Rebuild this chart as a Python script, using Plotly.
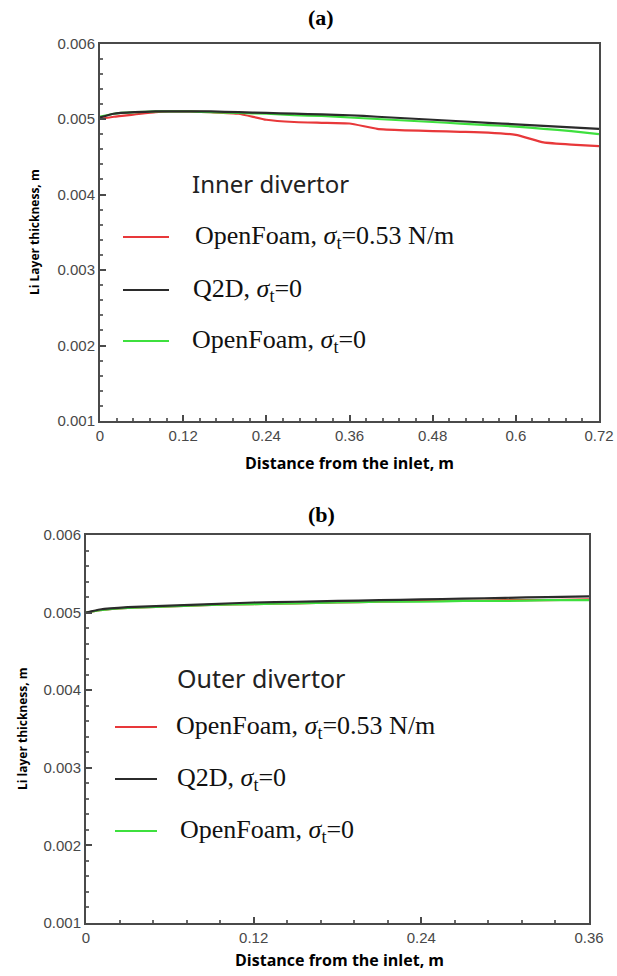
import plotly.graph_objects as go

# Inner divertor (panel a): distance along the plate, m
x_inner = [0.0, 0.02, 0.05, 0.08, 0.10, 0.13, 0.16, 0.20, 0.24, 0.28, 0.32, 0.36,
           0.40, 0.44, 0.48, 0.52, 0.56, 0.60, 0.64, 0.68, 0.72]
q2d_inner = [0.00502, 0.00507, 0.00509, 0.00510, 0.00510, 0.00510, 0.00510, 0.00509, 0.00508,
             0.00507, 0.00506, 0.00505, 0.00503, 0.00501, 0.00499, 0.00497, 0.00495, 0.00493,
             0.00491, 0.00489, 0.00487]
of0_inner = [0.00503, 0.00507, 0.00509, 0.00510, 0.00510, 0.00510, 0.00509, 0.00508, 0.00507,
             0.00505, 0.00504, 0.00502, 0.00500, 0.00498, 0.00496, 0.00494, 0.00492, 0.00490,
             0.00487, 0.00484, 0.00480]
of53_inner = [0.00500, 0.00503, 0.00506, 0.00509, 0.00510, 0.00510, 0.00509, 0.00507, 0.00499,
              0.00496, 0.00495, 0.00494, 0.00487, 0.00485, 0.00484, 0.00483, 0.00482, 0.00479,
              0.00469, 0.00466, 0.00464]

# Outer divertor (panel b)
x_outer = [0.0, 0.01, 0.03, 0.06, 0.09, 0.12, 0.15, 0.18, 0.21, 0.24, 0.27, 0.30, 0.33, 0.36]
q2d_outer = [0.00500, 0.00504, 0.00507, 0.00509, 0.00511, 0.00513, 0.00514, 0.00515, 0.00516,
             0.00517, 0.00518, 0.00519, 0.00520, 0.00521]
of0_outer = [0.00500, 0.00503, 0.00506, 0.00508, 0.00510, 0.00511, 0.00512, 0.00513, 0.00514,
             0.00514, 0.00515, 0.00515, 0.00516, 0.00516]
of53_outer = [0.00500, 0.00503, 0.00506, 0.00508, 0.00510, 0.00511, 0.00512, 0.00513, 0.00514,
              0.00515, 0.00515, 0.00516, 0.00516, 0.00517]

y_ticks = [0.001, 0.002, 0.003, 0.004, 0.005, 0.006]
y_tick_text = ["0.001", "0.002", "0.003", "0.004", "0.005", "0.006"]
x_ticks_inner = [0, 0.12, 0.24, 0.36, 0.48, 0.6, 0.72]
x_ticks_inner_text = ["0", "0.12", "0.24", "0.36", "0.48", "0.6", "0.72"]
x_ticks_outer = [0, 0.12, 0.24, 0.36]
x_ticks_outer_text = ["0", "0.12", "0.24", "0.36"]

series_labels = ["OpenFoam, <i>σ</i><sub>t</sub>=0.53 N/m",
                 "Q2D, <i>σ</i><sub>t</sub>=0",
                 "OpenFoam, <i>σ</i><sub>t</sub>=0"]
series_colors = ["#e8383a", "#2b2b2b", "#3ee03e"]

W, H = 617, 976
fig = go.Figure()

# draw order: red, green, black on top
for xa, ya, xs, ys in [("x", "y", x_inner, [of53_inner, q2d_inner, of0_inner]),
                       ("x2", "y2", x_outer, [of53_outer, q2d_outer, of0_outer])]:
    for idx in [0, 2, 1]:
        fig.add_trace(go.Scatter(x=xs, y=ys[idx], mode="lines", xaxis=xa, yaxis=ya,
                                 line=dict(color=series_colors[idx], width=2.2, shape="spline",
                                           smoothing=0.4),
                                 showlegend=False, hoverinfo="skip"))

tick_font = dict(family="Liberation Sans, Arial", size=15, color="#484848")
axis_common = dict(showline=True, mirror=True, linecolor="#4a4a4a", linewidth=2,
                   ticks="inside", ticklen=6, tickwidth=1.5, tickcolor="#4a4a4a",
                   showgrid=False, zeroline=False, tickfont=tick_font, automargin=False)
minor_x = dict(dtick=0.024, ticks="inside", ticklen=3, tickcolor="#6a6a6a")
minor_y = dict(dtick=0.0002, ticks="inside", ticklen=3, tickcolor="#6a6a6a")

fig.update_layout(
    width=W, height=H, margin=dict(l=0, r=0, t=0, b=0, autoexpand=False),
    paper_bgcolor="white", plot_bgcolor="white",
    xaxis=dict(domain=[100 / W, 599 / W], anchor="y", range=[0, 0.72],
               tickvals=x_ticks_inner, ticktext=x_ticks_inner_text, minor=minor_x,
               **axis_common),
    yaxis=dict(domain=[1 - 421 / H, 1 - 43.5 / H], anchor="x", range=[0.001, 0.006],
               tickvals=y_ticks, ticktext=y_tick_text, minor=minor_y,
               **axis_common),
    xaxis2=dict(domain=[86 / W, 589 / W], anchor="y2", range=[0, 0.36],
                tickvals=x_ticks_outer, ticktext=x_ticks_outer_text, minor=minor_x,
                **axis_common),
    yaxis2=dict(domain=[1 - 923 / H, 1 - 535 / H], anchor="x2", range=[0.001, 0.006],
                tickvals=y_ticks, ticktext=y_tick_text, minor=minor_y,
                **axis_common),
)

annotations = []
shapes = []


def px_note(x, y, text, size, family, bold=False, angle=0, xanchor="center", color="black"):
    annotations.append(dict(x=x / W, y=1 - y / H, xref="paper", yref="paper",
                            text=f"<b>{text}</b>" if bold else text, showarrow=False,
                            textangle=angle, xanchor=xanchor, yanchor="middle",
                            font=dict(family=family, size=size, color=color)))


serif = "Liberation Serif, Times New Roman"
sans_bold = "Open Sans, Noto Sans"
sans = "Noto Sans, Open Sans"

# Panel captions and axis titles
px_note(321, 18, "(a)", 22, serif, bold=True)
px_note(321, 514, "(b)", 22, serif, bold=True)
px_note(349, 463, "Distance from the inlet, m", 16, sans_bold, bold=True)
px_note(339, 960, "Distance from the inlet, m", 16, sans_bold, bold=True)
px_note(35, 232, "Li Layer thickness, m", 12, sans_bold, bold=True, angle=-90)
px_note(22, 729, "Li layer thickness, m", 12, sans_bold, bold=True, angle=-90)

# In-plot legends
px_note(190, 183, "Inner divertor", 24, sans, xanchor="left", color="#222222")
px_note(175, 678, "Outer divertor", 25, sans, xanchor="left", color="#222222")

legend_a = [(123, 169, 193, 237), (123, 169, 191, 290), (123, 169, 190, 341)]
legend_b = [(115, 157, 174, 727), (115, 157, 175, 779), (115, 157, 178, 831)]
for rows in (legend_a, legend_b):
    for (lx0, lx1, tx, ly), label, col in zip(rows, series_labels, series_colors):
        shapes.append(dict(type="line", xref="paper", yref="paper",
                           x0=lx0 / W, x1=lx1 / W, y0=1 - ly / H, y1=1 - ly / H,
                           line=dict(color=col, width=2)))
        px_note(tx, ly, label, 26, serif, xanchor="left", color="#111111")

fig.update_layout(annotations=annotations, shapes=shapes)

fig.write_html("out.html")
